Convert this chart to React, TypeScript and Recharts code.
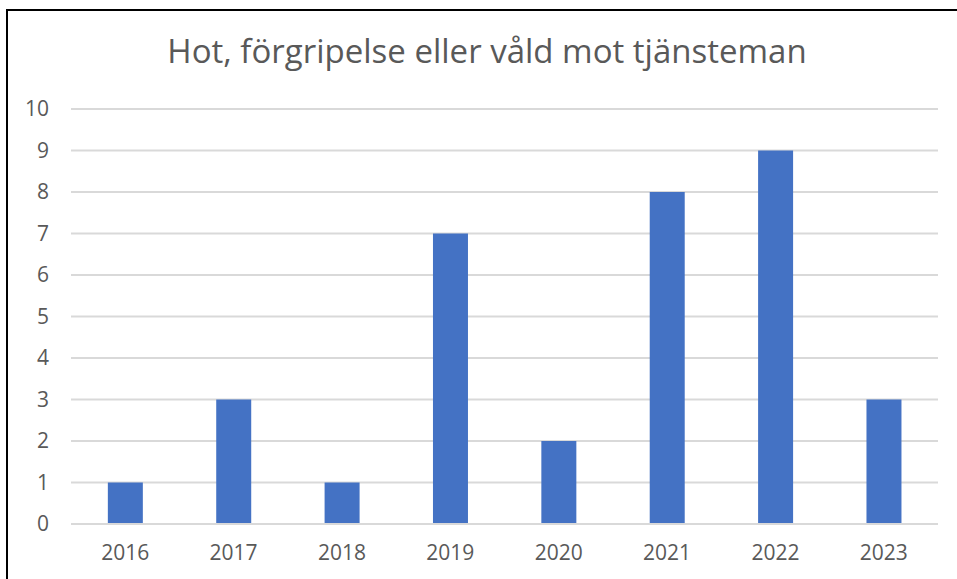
import { BarChart, Bar, XAxis, YAxis, CartesianGrid } from "recharts";

const years = ["2016", "2017", "2018", "2019", "2020", "2021", "2022", "2023"];
const counts = [1, 3, 1, 7, 2, 8, 9, 3];
const yTicks = [0, 1, 2, 3, 4, 5, 6, 7, 8, 9, 10];

const title = "Hot, förgripelse eller våld mot tjänsteman";

const data = years.map((year, i) => ({ year, value: counts[i] }));

const textColor = "#595959";
const font = "'Open Sans', sans-serif";

export default function App() {
  return (
    <div
      style={{
        position: "absolute",
        left: 6,
        top: 9,
        width: 951,
        height: 570,
        borderLeft: "2px solid #000",
        borderTop: "2px solid #000",
        background: "#fff",
        overflow: "hidden",
        fontFamily: font,
      }}
    >
      <div
        style={{
          position: "absolute",
          left: 0,
          width: 958,
          top: 19,
          textAlign: "center",
          fontSize: 33,
          color: textColor,
          lineHeight: "42px",
        }}
      >
        {title}
      </div>
      <BarChart
        width={949}
        height={568}
        data={data}
        margin={{ top: 98, right: 19, bottom: 12, left: 13 }}
        barCategoryGap="34%"
      >
        <CartesianGrid vertical={false} stroke="#d9d9d9" strokeWidth={2} />
        <XAxis
          dataKey="year"
          axisLine={{ stroke: "#d9d9d9", strokeWidth: 2 }}
          tickLine={false}
          tickSize={0}
          tickMargin={21}
          height={43}
          tick={{ fill: textColor, fontSize: 21, fontFamily: font }}
        />
        <YAxis
          domain={[0, 10]}
          ticks={yTicks}
          interval={0}
          axisLine={false}
          tickLine={false}
          tickSize={0}
          tickMargin={22}
          width={50}
          tick={{ fill: textColor, fontSize: 21, fontFamily: font }}
        />
        <Bar dataKey="value" fill="#4472c4" isAnimationActive={false} />
      </BarChart>
    </div>
  );
}
